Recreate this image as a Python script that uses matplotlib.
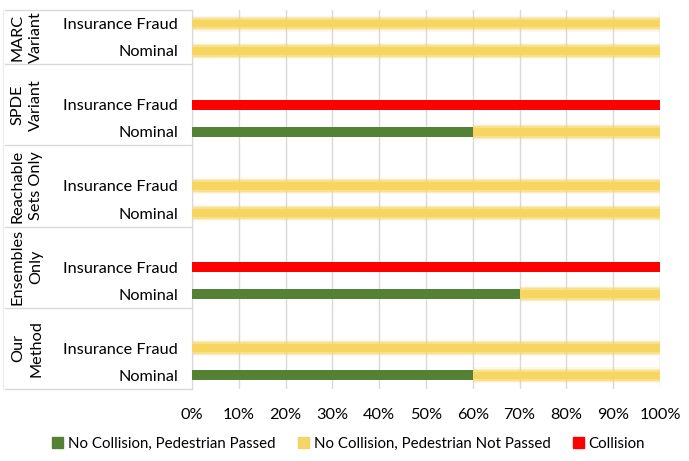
import matplotlib
matplotlib.use('Agg')
import matplotlib.pyplot as plt
from matplotlib.patches import Patch
import numpy as np

plt.rcParams['font.family'] = ['Lato', 'DejaVu Sans']

# groups, bottom to top
groups = ['Our\nMethod', 'Ensembles\nOnly', 'Reachable\nSets Only', 'SPDE\nVariant', 'MARC\nVariant']
cases = ['Nominal', 'Insurance Fraud']

# percent per group, per case (Nominal, Insurance Fraud)
passed = [[60, 0], [70, 0], [0, 0], [60, 0], [0, 0]]
not_passed = [[40, 100], [30, 0], [100, 100], [40, 0], [100, 100]]
collision = [[0, 0], [0, 100], [0, 0], [0, 100], [0, 0]]

series_names = ['No Collision, Pedestrian Passed', 'No Collision, Pedestrian Not Passed', 'Collision']
GREEN = '#548235'
YELLOW = '#F5D565'
RED = '#FF0000'
GRID = '#D9D9D9'
FS = 11.7

fig = plt.figure(figsize=(6.89, 4.61), dpi=100)
ax = fig.add_axes([192 / 689, 1 - 389 / 461, 468 / 689, 379 / 461])

# row positions: each group has 3 slots (top one empty), MARC only 2
ypos = []
bounds = [0]
slot = 0
for g in range(len(groups)):
    ypos.append([slot + 0.5, slot + 1.5])
    slot += 3 if g < len(groups) - 1 else 2
    bounds.append(slot)

h = 0.37
for g in range(len(groups)):
    for c in range(2):
        y = ypos[g][c]
        left = 0
        vals = [passed[g][c], not_passed[g][c], collision[g][c]]
        for v, col in zip(vals, [GREEN, YELLOW, RED]):
            if v > 0:
                if col == YELLOW:
                    # soft glow edges
                    for k, a in [(0.22, 0.15), (0.14, 0.3), (0.07, 0.5)]:
                        ax.barh(y, v, left=left, height=h + k, color=YELLOW, alpha=a, lw=0, zorder=2)
                    ax.barh(y, v, left=left, height=h - 0.08, color='#F7D660', lw=0, zorder=3)
                else:
                    ax.barh(y, v, left=left, height=h, color=col, lw=0, zorder=3)
            left += v

ax.set_xlim(0, 100)
ax.set_ylim(0, bounds[-1])
ax.set_xticks(np.arange(0, 101, 10))
ax.set_xticklabels([f'{t}%' for t in range(0, 101, 10)], fontsize=FS)
ax.xaxis.grid(True, color=GRID, lw=1, zorder=0)
ax.set_axisbelow(True)
ax.tick_params(axis='x', length=0, pad=14)

ax.set_yticks([y for g in ypos for y in g])
ax.set_yticklabels(cases * len(groups), fontsize=FS)
ax.tick_params(axis='y', length=0, pad=10)

for s in ['top', 'right', 'bottom']:
    ax.spines[s].set_visible(False)
ax.spines['left'].set_color(GRID)

# group separators and group labels
trans = ax.get_yaxis_transform()
x0 = (5 - 192) / 468
for b in bounds:
    ax.plot([x0, 0], [b, b], color=GRID, lw=1, transform=trans, clip_on=False)
ax.plot([x0 - 0.004, x0 - 0.004], [0, bounds[-1]], color='#EBEBEB', lw=0.8, transform=trans, clip_on=False)
for g, name in enumerate(groups):
    ax.text((27 - 192) / 468, (bounds[g] + bounds[g + 1]) / 2, name, transform=trans,
            rotation=90, ha='center', va='center', fontsize=FS, linespacing=1.4)

handles = [Patch(color=GREEN), Patch(color=YELLOW), Patch(color=RED)]
fig.legend(handles, series_names, loc='center', bbox_to_anchor=(0.506, 1 - 444 / 461),
           ncol=3, frameon=False, fontsize=10.8, handlelength=0.75, handleheight=0.75,
           handletextpad=0.3, columnspacing=1.5)

fig.savefig('out.png', dpi=100)
